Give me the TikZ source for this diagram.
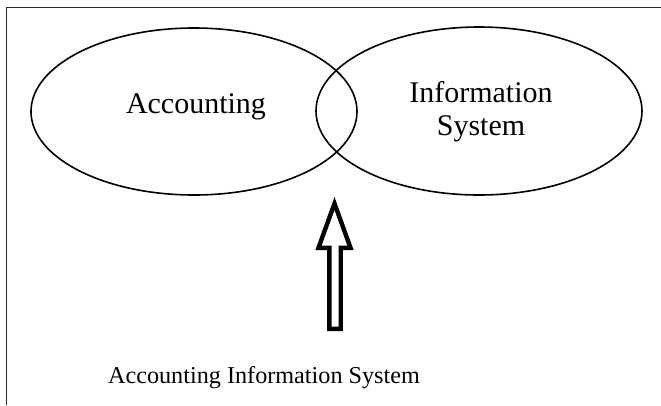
\documentclass[tikz,border=0pt]{standalone}
\usepackage{fontspec}
\setmainfont{Liberation Serif}
\usetikzlibrary{shapes.geometric}
\begin{document}
\begin{tikzpicture}[x=1pt,y=-1pt,
  setshape/.style={draw, ellipse, line width=1.6pt, inner sep=0pt},
  biglabel/.style={font=\fontsize{30}{33}\selectfont, inner sep=0pt, align=center},
  caption/.style={font=\fontsize{24.2}{28}\selectfont, inner sep=0pt},
  blockarrow/.style={draw, line width=4.4pt, miter limit=10}]
\useasboundingbox (0,0) rectangle (661,405);
\draw[line width=0.9pt, black!85] (6.5,405) -- (6.5,7) -- (661,7);
\node[setshape, minimum width=326pt, minimum height=167pt] (acc) at (194,111.5) {};
\node[setshape, minimum width=326pt, minimum height=168pt] (is) at (479,111) {};
\node[biglabel, anchor=base] (acct) at (196,113) {Accounting};
\node[biglabel, anchor=base] (inft) at (481,102) {Information};
\node[biglabel, anchor=base] (syst) at (481,135) {System};
\node[caption, anchor=base] (ais) at (264,383) {Accounting Information System};
\draw[blockarrow] (334.5,203.5) -- (350.5,247.8) -- (340.7,247.8) -- (340.7,328.8)
  -- (329.3,328.8) -- (329.3,247.8) -- (318.5,247.8) -- cycle;
\end{tikzpicture}
\end{document}
